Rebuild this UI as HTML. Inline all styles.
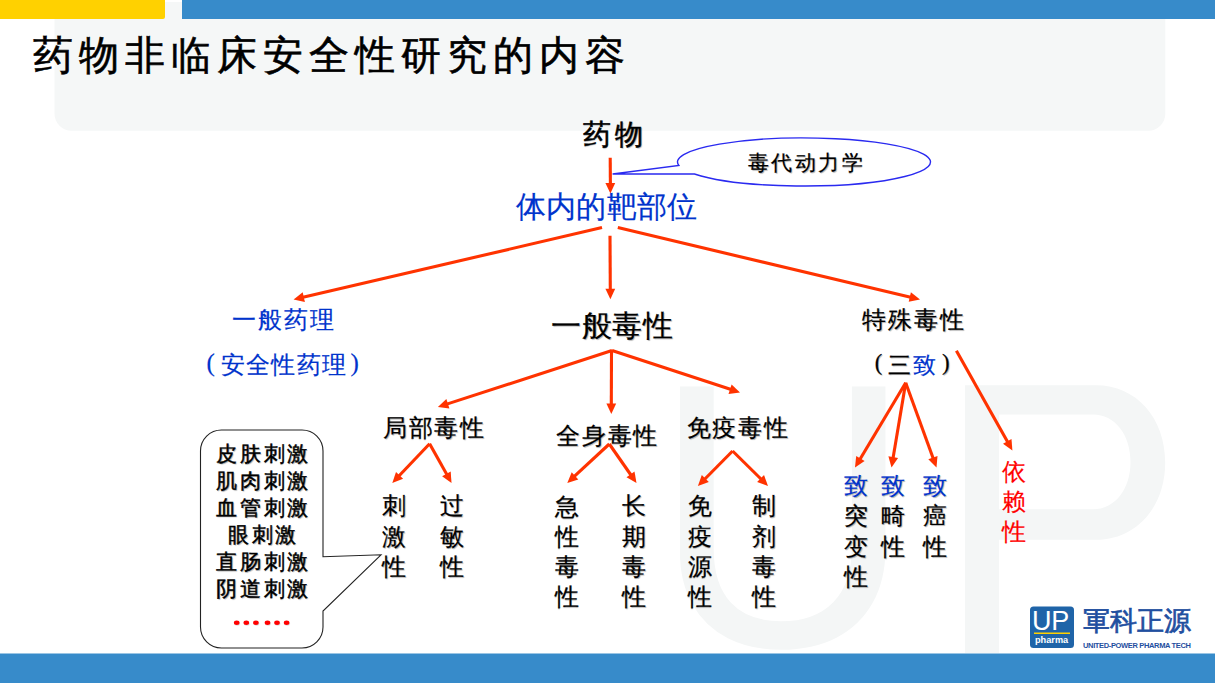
<!DOCTYPE html>
<html>
<head>
<meta charset="utf-8">
<style>
html,body{margin:0;padding:0;}
body{width:1215px;height:683px;position:relative;overflow:hidden;background:#fff;font-family:"Liberation Serif",serif;}
.t{position:absolute;white-space:nowrap;color:#000;text-shadow:0.8px 0.8px 0.8px rgba(0,0,0,0.3);-webkit-text-stroke:0.2px currentColor;}
#t1{-webkit-text-stroke:0.6px #000;text-shadow:none;}
.nb{text-shadow:none;-webkit-text-stroke:0;}
svg{position:absolute;left:0;top:0;}
.wm{position:absolute;font-family:"Liberation Sans",sans-serif;color:#F4F6F6;line-height:1;white-space:nowrap;}
</style>
</head>
<body>
<svg width="1215" height="683" viewBox="0 0 1215 683">
  <!-- header gray box -->
  <rect x="54.5" y="2" width="1110.8" height="128.8" rx="17" ry="17" fill="#F5F7F7"/>
  <!-- top bars -->
  <path d="M0 0 H165 V17 Q165 19 163 19 H0 Z" fill="#FFD100"/>
  <rect x="182" y="0" width="1033" height="19" fill="#378BCA"/>
</svg>
<div class="wm" id="wmU" style="left:651.5px;top:326.7px;font-size:369px;transform-origin:0 0;transform:scale(0.981,1.023)">U</div>
<svg width="1215" height="683" viewBox="0 0 1215 683"><path fill="#F4F6F6" fill-rule="evenodd" d="M965,385.3 H1096 C1136.1,385.3 1165.2,417.7 1165.2,462.5 C1165.2,507.4 1136.1,539.8 1096,539.8 H999 V653 H965 Z M999,414.5 H1093 C1114.8,414.5 1130.5,434.4 1130.5,461.9 C1130.5,489.3 1114.8,509.2 1093,509.2 H999 Z"/></svg>
<svg width="1215" height="683" viewBox="0 0 1215 683">
  <!-- bottom bar -->
  <rect x="0" y="653.5" width="1215" height="30" fill="#378BCA"/>
  <!-- ellipse callout -->
  <path d="M678.85 165.5 A126.5 24 0 1 1 694.45 174 L612.6 174 Z" fill="#fff" stroke="#2A2AF0" stroke-width="1.4" stroke-linejoin="miter"/>
  <!-- rounded callout -->
  <path d="M221.5 430 H302 A21 21 0 0 1 323 451 V556.7 L381 554.8 L323 611 V627 A21 21 0 0 1 302 648 H221.5 A21 21 0 0 1 200.5 627 V451 A21 21 0 0 1 221.5 430 Z" fill="#fff" stroke="#222" stroke-width="1.1"/>
  <!-- red dots -->
  <g fill="#FF0000"><ellipse cx="237.29999999999998" cy="623.6" rx="2.8" ry="2.2" fill="#bbb" opacity="0.5"/><ellipse cx="236.7" cy="622.8" rx="2.8" ry="2.2"/><ellipse cx="246.9" cy="623.6" rx="2.8" ry="2.2" fill="#bbb" opacity="0.5"/><ellipse cx="246.3" cy="622.8" rx="2.8" ry="2.2"/><ellipse cx="256.5" cy="623.6" rx="2.8" ry="2.2" fill="#bbb" opacity="0.5"/><ellipse cx="255.9" cy="622.8" rx="2.8" ry="2.2"/><ellipse cx="268.1" cy="623.6" rx="2.8" ry="2.2" fill="#bbb" opacity="0.5"/><ellipse cx="267.5" cy="622.8" rx="2.8" ry="2.2"/><ellipse cx="277.6" cy="623.6" rx="2.8" ry="2.2" fill="#bbb" opacity="0.5"/><ellipse cx="277.0" cy="622.8" rx="2.8" ry="2.2"/><ellipse cx="287.20000000000005" cy="623.6" rx="2.8" ry="2.2" fill="#bbb" opacity="0.5"/><ellipse cx="286.6" cy="622.8" rx="2.8" ry="2.2"/></g>
  <line x1="610.2" y1="157.8" x2="610.4" y2="185.0" stroke="#FF3300" stroke-width="3.1"/>
<polygon points="610.4,193.5 605.4,183.0 615.2,183.0" fill="#FF3300"/>
<line x1="602" y1="227.6" x2="301.9" y2="297.6" stroke="#FF3300" stroke-width="3.1"/>
<polygon points="293.6,299.5 302.7,292.3 304.9,301.9" fill="#FF3300"/>
<line x1="610" y1="235.7" x2="610.3" y2="290.7" stroke="#FF3300" stroke-width="3.1"/>
<polygon points="610.4,299.2 605.4,288.7 615.2,288.7" fill="#FF3300"/>
<line x1="617.8" y1="227.6" x2="911.7" y2="297.5" stroke="#FF3300" stroke-width="3.1"/>
<polygon points="920,299.5 908.7,301.8 910.9,292.3" fill="#FF3300"/>
<line x1="612" y1="350.5" x2="446.0" y2="404.4" stroke="#FF3300" stroke-width="3.1"/>
<polygon points="437.9,407 446.4,399.1 449.4,408.4" fill="#FF3300"/>
<line x1="611.5" y1="350.5" x2="611.3" y2="405.5" stroke="#FF3300" stroke-width="3.1"/>
<polygon points="611.3,414 606.4,403.5 616.2,403.5" fill="#FF3300"/>
<line x1="612" y1="350.5" x2="731.9" y2="389.8" stroke="#FF3300" stroke-width="3.1"/>
<polygon points="740,392.5 728.5,393.9 731.6,384.6" fill="#FF3300"/>
<line x1="429.6" y1="443.8" x2="398.2" y2="476.8" stroke="#FF3300" stroke-width="3.1"/>
<polygon points="392.3,483 396.0,472.0 403.1,478.8" fill="#FF3300"/>
<line x1="429.6" y1="443.8" x2="447.4" y2="475.6" stroke="#FF3300" stroke-width="3.1"/>
<polygon points="451.5,483 442.1,476.2 450.7,471.4" fill="#FF3300"/>
<line x1="609.3" y1="444" x2="573.5" y2="477.2" stroke="#FF3300" stroke-width="3.1"/>
<polygon points="567.3,483 571.7,472.3 578.3,479.4" fill="#FF3300"/>
<line x1="609.3" y1="444" x2="631.6" y2="476.0" stroke="#FF3300" stroke-width="3.1"/>
<polygon points="636.5,483 626.5,477.2 634.5,471.6" fill="#FF3300"/>
<line x1="732.6" y1="451" x2="703.9" y2="480.0" stroke="#FF3300" stroke-width="3.1"/>
<polygon points="697.9,486 701.8,475.1 708.8,482.0" fill="#FF3300"/>
<line x1="732.6" y1="451" x2="762.0" y2="480.0" stroke="#FF3300" stroke-width="3.1"/>
<polygon points="768,486 757.1,482.1 764.0,475.1" fill="#FF3300"/>
<line x1="905.7" y1="382.7" x2="859.4" y2="460.2" stroke="#FF3300" stroke-width="3.1"/>
<polygon points="855,467.5 856.2,456.0 864.6,461.0" fill="#FF3300"/>
<line x1="905.7" y1="382.7" x2="892.9" y2="459.1" stroke="#FF3300" stroke-width="3.1"/>
<polygon points="891.5,467.5 888.4,456.3 898.1,458.0" fill="#FF3300"/>
<line x1="905.7" y1="382.7" x2="933.6" y2="459.5" stroke="#FF3300" stroke-width="3.1"/>
<polygon points="936.5,467.5 928.3,459.3 937.5,456.0" fill="#FF3300"/>
<line x1="956.4" y1="350.7" x2="1008.2" y2="443.1" stroke="#FF3300" stroke-width="3.1"/>
<polygon points="1012.4,450.5 1003.0,443.7 1011.5,438.9" fill="#FF3300"/>
  <!-- logo -->
  <rect x="1030" y="606.5" width="44" height="41.5" rx="3.5" fill="#1F64A8"/>
  <line x1="1034" y1="633.3" x2="1070" y2="633.3" stroke="#FFD100" stroke-width="1.6"/>
</svg>
<div id="lgUP" class="t nb" style="left:1032px;top:607.5px;font-family:'Liberation Sans',sans-serif;font-size:27px;line-height:27px;color:#fff;letter-spacing:-0.3px">UP</div>
<div id="lgph" class="t nb" style="left:1035px;top:634.5px;font-family:'Liberation Sans',sans-serif;font-size:9.2px;line-height:10px;color:#fff;font-weight:bold">pharma</div>
<div id="lgcn" class="t nb" style="left:1083px;top:608px;font-size:27px;line-height:27px;color:#1F4FA0;letter-spacing:0px;-webkit-text-stroke:0.7px #1F4FA0">軍科正源</div>
<div id="lgen" class="t nb" style="left:1083px;top:641.5px;font-family:'Liberation Sans',sans-serif;font-size:7.5px;line-height:8px;color:#1F4FA0;font-weight:bold;letter-spacing:-0.35px">UNITED-POWER PHARMA TECH</div>
<div id="t1" class="t" style="left:33.0px;top:36.0px;font-size:40.0px;line-height:40.0px;letter-spacing:6.00px;color:#000;font-weight:normal;">药物非临床安全性研究的内容</div>
<div id="t2" class="t" style="left:582.7px;top:121.2px;font-size:28.0px;line-height:28.0px;letter-spacing:4.68px;color:#000;font-weight:normal;-webkit-text-stroke:0.5px #000;">药物</div>
<div id="t3" class="t" style="left:747.8px;top:153.4px;font-size:21.0px;line-height:21.0px;letter-spacing:2.47px;color:#000;font-weight:normal;">毒代动力学</div>
<div id="t4" class="t" style="left:515.7px;top:192.0px;font-size:30.0px;line-height:30.0px;letter-spacing:0.36px;color:#0033CC;font-weight:normal;text-shadow:none;">体内的靶部位</div>
<div id="t5" class="t" style="left:232.0px;top:307.5px;font-size:24.0px;line-height:24.0px;letter-spacing:2.00px;color:#0033CC;font-weight:normal;text-shadow:none;">一般药理</div>
<div id="t6" class="t" style="left:220.8px;top:352.8px;font-size:24.0px;line-height:24.0px;letter-spacing:1.26px;color:#0033CC;font-weight:normal;text-shadow:none;">安全性药理</div>
<div id="t7" class="t" style="left:206.6px;top:349.8px;font-size:25.0px;line-height:25.0px;color:#0033CC;text-shadow:none;">(</div>
<div id="t8" class="t" style="left:350.4px;top:349.8px;font-size:25.0px;line-height:25.0px;color:#0033CC;text-shadow:none;">)</div>
<div id="t9" class="t" style="left:551.0px;top:311.1px;font-size:30.0px;line-height:30.0px;letter-spacing:0.73px;color:#000;font-weight:normal;">一般毒性</div>
<div id="t10" class="t" style="left:862.3px;top:307.7px;font-size:24.0px;line-height:24.0px;letter-spacing:1.88px;color:#000;font-weight:normal;">特殊毒性</div>
<div id="t11" class="t" style="left:887.8px;top:354.1px;font-size:23.0px;line-height:23.0px;letter-spacing:0.00px;color:#000;font-weight:normal;">三</div>
<div id="t12" class="t" style="left:912.8px;top:354.1px;font-size:23.0px;line-height:23.0px;letter-spacing:0.00px;color:#0033CC;font-weight:normal;text-shadow:none;">致</div>
<div id="t13" class="t" style="left:874.8px;top:351.6px;font-size:22.7px;line-height:22.7px;color:#000;">(</div>
<div id="t14" class="t" style="left:942.1px;top:351.6px;font-size:22.7px;line-height:22.7px;color:#000;">)</div>
<div id="t15" class="t" style="left:382.8px;top:416.2px;font-size:24.0px;line-height:24.0px;letter-spacing:1.81px;color:#000;font-weight:normal;">局部毒性</div>
<div id="t16" class="t" style="left:556.4px;top:423.5px;font-size:24.0px;line-height:24.0px;letter-spacing:1.61px;color:#000;font-weight:normal;">全身毒性</div>
<div id="t17" class="t" style="left:686.8px;top:415.5px;font-size:24.0px;line-height:24.0px;letter-spacing:1.65px;color:#000;font-weight:normal;">免疫毒性</div>
<div id="t18" class="t" style="left:382.3px;top:491.4px;font-size:24px;line-height:30.2px;color:#000;">刺<br>激<br>性</div>
<div id="t19" class="t" style="left:440.0px;top:491.4px;font-size:24px;line-height:30.2px;color:#000;">过<br>敏<br>性</div>
<div id="t20" class="t" style="left:554.7px;top:491.8px;font-size:24px;line-height:30.2px;color:#000;">急<br>性<br>毒<br>性</div>
<div id="t21" class="t" style="left:622.3px;top:491.4px;font-size:24px;line-height:30.2px;color:#000;">长<br>期<br>毒<br>性</div>
<div id="t22" class="t" style="left:687.6px;top:491.4px;font-size:24px;line-height:30.2px;color:#000;">免<br>疫<br>源<br>性</div>
<div id="t23" class="t" style="left:752.3px;top:491.4px;font-size:24px;line-height:30.2px;color:#000;">制<br>剂<br>毒<br>性</div>
<div id="t24" class="t" style="left:843.8px;top:471.1px;font-size:24px;line-height:30.2px;color:#000;"><span style="color:#0033CC">致</span><br>突<br>变<br>性</div>
<div id="t25" class="t" style="left:880.9px;top:471.1px;font-size:24px;line-height:30.2px;color:#000;"><span style="color:#0033CC">致</span><br>畸<br>性</div>
<div id="t26" class="t" style="left:922.8px;top:471.1px;font-size:24px;line-height:30.2px;color:#000;"><span style="color:#0033CC">致</span><br>癌<br>性</div>
<div id="t27" class="t" style="left:1001.9px;top:457.0px;font-size:24px;line-height:30.2px;color:#FF0000;text-shadow:none;">依<br>赖<br>性</div>
<div id="t28" class="t" style="left:216.3px;top:443.6px;font-size:21.0px;line-height:21.0px;letter-spacing:2.65px;color:#000;font-weight:normal;-webkit-text-stroke:0.45px #000;">皮肤刺激</div>
<div id="t29" class="t" style="left:216.3px;top:470.6px;font-size:21.0px;line-height:21.0px;letter-spacing:2.65px;color:#000;font-weight:normal;-webkit-text-stroke:0.45px #000;">肌肉刺激</div>
<div id="t30" class="t" style="left:216.3px;top:497.7px;font-size:21.0px;line-height:21.0px;letter-spacing:2.65px;color:#000;font-weight:normal;-webkit-text-stroke:0.45px #000;">血管刺激</div>
<div id="t31" class="t" style="left:228.1px;top:524.7px;font-size:21.0px;line-height:21.0px;letter-spacing:2.65px;color:#000;font-weight:normal;-webkit-text-stroke:0.45px #000;">眼刺激</div>
<div id="t32" class="t" style="left:216.3px;top:551.7px;font-size:21.0px;line-height:21.0px;letter-spacing:2.65px;color:#000;font-weight:normal;-webkit-text-stroke:0.45px #000;">直肠刺激</div>
<div id="t33" class="t" style="left:216.3px;top:578.8px;font-size:21.0px;line-height:21.0px;letter-spacing:2.65px;color:#000;font-weight:normal;-webkit-text-stroke:0.45px #000;">阴道刺激</div>
</body>
</html>
